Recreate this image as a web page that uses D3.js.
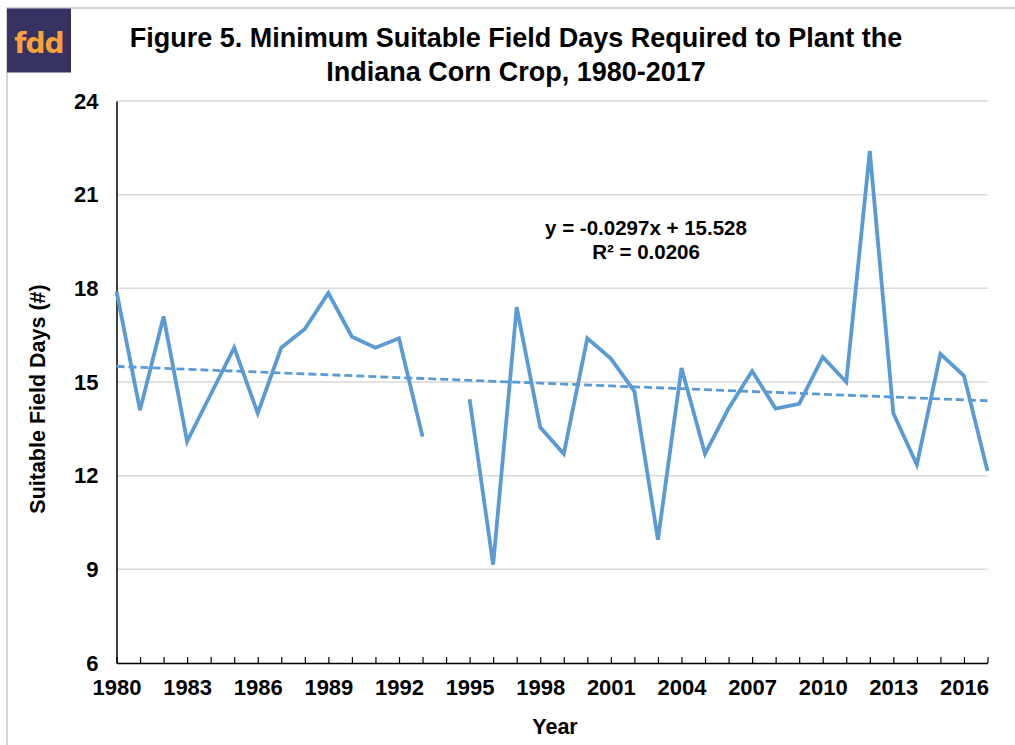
<!DOCTYPE html>
<html>
<head>
<meta charset="utf-8">
<script src="https://cdn.jsdelivr.net/npm/d3@7"></script>
<style>
  html, body { margin: 0; padding: 0; background: #fff; }
  svg { display: block; font-family: "Liberation Sans", Arial, sans-serif; }
</style>
</head>
<body>
<svg id="chart" width="1015" height="745"></svg>
<script>
// ---- Data ----
const years = d3.range(1980, 2018);
const fieldDays = [
  17.9, 14.1, 17.1, 13.1, 14.6, 16.1, 14.0, 16.1, 16.7, 17.85,
  16.45, 16.1, 16.4, 13.25, null, 14.45, 9.15, 17.4, 13.55, 12.7,
  16.4, 15.75, 14.7, 9.95, 15.45, 12.7, 14.15, 15.35, 14.15, 14.3,
  15.8, 15.0, 22.4, 14.0, 12.35, 15.9, 15.2, 12.15
];
const trendSlope = -0.0297;
const trendIntercept = 15.528;
const rSquared = 0.0206;
const yTicks = [6, 9, 12, 15, 18, 21, 24];
const xTickLabels = [1980, 1983, 1986, 1989, 1992, 1995, 1998, 2001, 2004, 2007, 2010, 2013, 2016];
const titleLines = ["Figure 5. Minimum Suitable Field Days Required to Plant the", "Indiana Corn Crop, 1980-2017"];

// ---- Layout ----
const svg = d3.select("#chart");
const plotLeft = 116.5, plotRight = 987.5, plotTop = 101, plotBottom = 663;
const x = d3.scaleLinear().domain([1980, 2017]).range([plotLeft, plotRight]);
const y = d3.scaleLinear().domain([6, 24]).range([plotBottom, plotTop]);
const lineColor = "#5b9bd5";

// outer border (top and left visible)
svg.append("rect").attr("x", 7).attr("y", 8).attr("width", 1020).attr("height", 760)
  .attr("fill", "none").attr("stroke", "#c6c6c6").attr("stroke-width", 1.5);

// logo
svg.append("rect").attr("x", 7).attr("y", 8.5).attr("width", 64).attr("height", 64).attr("fill", "#363262");
svg.append("text").attr("x", 39).attr("y", 53).attr("text-anchor", "middle")
  .attr("font-family", "'DejaVu Sans', sans-serif").attr("font-weight", "bold")
  .attr("font-size", 28).attr("fill", "#f7a23b").attr("letter-spacing", -1).text("fdd");

// title
svg.append("g").selectAll("text").data(titleLines).join("text")
  .attr("x", 516).attr("y", (d, i) => 47 + i * 33.5)
  .attr("text-anchor", "middle").attr("font-weight", "bold").attr("font-size", 27)
  .attr("fill", "#000").text(d => d);

// gridlines
svg.append("g").selectAll("line").data(yTicks.filter(t => t !== 6)).join("line")
  .attr("x1", plotLeft).attr("x2", plotRight).attr("y1", d => y(d)).attr("y2", d => y(d))
  .attr("stroke", "#d9d9d9").attr("stroke-width", 1.5);

// y axis
const yAxis = d3.axisLeft(y).tickValues(yTicks).tickSize(0).tickPadding(18);
const gy = svg.append("g").attr("transform", `translate(${plotLeft},0)`).call(yAxis);
gy.select(".domain").attr("stroke", "#000").attr("stroke-width", 1.5);
gy.selectAll("text").attr("font-size", 22).attr("font-weight", "bold").attr("fill", "#000")
  .attr("font-family", "'Liberation Sans', Arial, sans-serif");

// x axis (inward ticks each year)
const xAxis = d3.axisBottom(x).tickValues(years).tickSize(-6).tickSizeOuter(0)
  .tickFormat(d => xTickLabels.includes(d) ? d : "").tickPadding(16);
const gx = svg.append("g").attr("transform", `translate(0,${plotBottom})`).call(xAxis);
gx.select(".domain").attr("stroke", "#000").attr("stroke-width", 1.5);
gx.selectAll(".tick line").attr("stroke", "#000").attr("stroke-width", 1.2);
gx.selectAll("text").attr("font-size", 22).attr("font-weight", "bold").attr("fill", "#000")
  .attr("font-family", "'Liberation Sans', Arial, sans-serif");

// axis titles
svg.append("text").attr("x", 555).attr("y", 734).attr("text-anchor", "middle")
  .attr("font-weight", "bold").attr("font-size", 21.5).text("Year");
svg.append("text").attr("transform", "translate(45,399) rotate(-90)").attr("text-anchor", "middle")
  .attr("font-weight", "bold").attr("font-size", 21.5).text("Suitable Field Days (#)");

// trend line
const trendData = years.map((yr, i) => ({ yr, v: trendSlope * (i + 1) + trendIntercept }));
svg.append("path").datum(trendData)
  .attr("d", d3.line().x(d => x(d.yr)).y(d => y(d.v)))
  .attr("fill", "none").attr("stroke", lineColor).attr("stroke-width", 2.8)
  .attr("stroke-dasharray", "8,4");

// data line
const series = years.map((yr, i) => ({ yr, v: fieldDays[i] }));
svg.append("path").datum(series)
  .attr("d", d3.line().defined(d => d.v !== null).x(d => x(d.yr)).y(d => y(d.v)))
  .attr("fill", "none").attr("stroke", lineColor).attr("stroke-width", 3.8)
  .attr("stroke-linejoin", "miter");

// equation
svg.append("text").attr("x", 646).attr("y", 235).attr("text-anchor", "middle")
  .attr("font-weight", "bold").attr("font-size", 20.5)
  .text(`y = ${trendSlope}x + ${trendIntercept}`);
svg.append("text").attr("x", 646).attr("y", 259).attr("text-anchor", "middle")
  .attr("font-weight", "bold").attr("font-size", 20.5)
  .text(`R² = ${rSquared}`);
</script>
</body>
</html>
